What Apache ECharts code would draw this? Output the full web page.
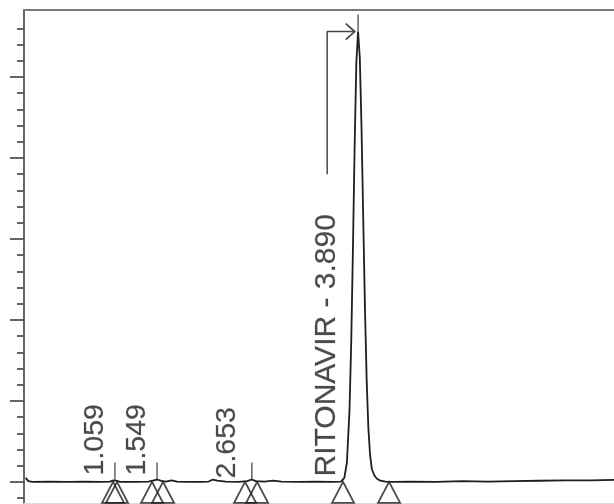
<!DOCTYPE html>
<html>
<head>
<meta charset="utf-8">
<script src="https://cdn.jsdelivr.net/npm/echarts@6/dist/echarts.min.js"></script>
<style>
  html, body { margin: 0; padding: 0; background: #fff; }
  #chart { width: 614px; height: 504px; }
</style>
</head>
<body>
<div id="chart"></div>
<script>
// Chromatogram trace: retention time (min) and detector response
const traceTimes = [
  0.02, 0.05, 0.10, 0.30, 0.50, 0.70, 0.90, 1.00, 1.04, 1.06, 1.08, 1.12,
  1.30, 1.45, 1.50, 1.55, 1.60, 1.65, 1.72, 1.78, 1.90, 2.05, 2.15, 2.20,
  2.25, 2.35, 2.50, 2.60, 2.65, 2.70, 2.80, 2.90, 3.00, 3.20, 3.40, 3.60,
  3.69, 3.73, 3.76, 3.79, 3.81, 3.83, 3.85, 3.87, 3.89, 3.91, 3.93, 3.95,
  3.97, 3.99, 4.01, 4.03, 4.05, 4.08, 4.11, 4.15, 4.21, 4.30, 4.50, 4.80,
  5.10, 5.40, 5.70, 6.00, 6.30, 6.60, 6.87
];
const traceValues = [
  0.50, 0.10, 0.00, 0.05, 0.00, 0.05, 0.00, 0.05, 0.20, 0.30, 0.15, 0.00,
  0.00, 0.05, 0.15, 0.30, 0.12, 0.05, 0.20, 0.05, 0.00, 0.00, 0.05, 0.30,
  0.15, 0.05, 0.00, 0.10, 0.30, 0.10, 0.05, 0.15, 0.05, 0.00, 0.05, 0.00,
  0.03, 0.49, 2.40, 8.80, 17.1, 28.7, 41.5, 51.8, 55.6, 52.4, 43.8, 32.6,
  21.5, 12.6, 6.60, 3.30, 1.60, 0.80, 0.40, 0.15, 0.05, 0.00, 0.05, 0.00,
  0.10, 0.05, 0.10, 0.15, 0.20, 0.20, 0.25
];

// Detected peaks
const peakTimes   = [1.059, 1.549, 2.653, 3.890];
const peakHeights = [0.30, 0.30, 0.30, 55.6];
const peakNames   = ['', '', '', 'RITONAVIR'];

// Integration start/end marks on the baseline
const integrationMarks = [1.037, 1.083, 1.491, 1.619, 2.574, 2.714, 3.715, 4.251];

// Y axis tick positions (no labels)
const majorTickValues = [0, 10, 20, 30, 40, 50];
const minorTickValues = [-2, 2, 4, 6, 8, 12, 14, 16, 18, 22, 24, 26, 28,
  32, 34, 36, 38, 42, 44, 46, 48, 52, 54, 56];

const X_MIN = 0, X_MAX = 6.87;
const Y_MIN = -2.6, Y_MAX = 58.27;
const INK = '#1e1e1e';
const FONT = '"Liberation Sans", Arial, sans-serif';

// label anchor shift (px) from each peak's baseline point, and font size
const labelPlacement = [
  { pos: [-19, -6], size: 28.5 },
  { pos: [-19, -6], size: 28.5 },
  { pos: [-24, -3], size: 28.5 },
  { pos: [-31, -5], size: 30 }
];

const trace = traceTimes.map((t, i) => [t, traceValues[i]]);

const labelData = peakTimes.map((t, i) => {
  const text = peakNames[i] ? peakNames[i] + ' - ' + t.toFixed(3) : t.toFixed(3);
  return {
    value: [t, 0],
    label: {
      show: true,
      formatter: text,
      position: labelPlacement[i].pos,
      rotate: 90,
      align: 'left',
      verticalAlign: 'middle',
      fontSize: labelPlacement[i].size,
      fontFamily: FONT,
      color: INK,
      textBorderColor: 'rgba(30,30,30,0.35)',
      textBorderWidth: 0.6
    }
  };
});

// Annotation arrow pointing at the main peak apex
const mainIdx = peakHeights.indexOf(Math.max(...peakHeights));
const mainT = peakTimes[mainIdx];
const mainH = peakHeights[mainIdx];
const arrowPath = [
  [mainT - 0.36, 38],
  [mainT - 0.36, mainH],
  [mainT - 0.045, mainH]
];

const chart = echarts.init(document.getElementById('chart'), null, { renderer: 'canvas' });

const hiddenAxisParts = {
  axisTick: { show: false },
  axisLabel: { show: false },
  splitLine: { show: false }
};

chart.setOption({
  animation: false,
  backgroundColor: '#fff',
  grid: { left: 24, right: 0, top: 10, bottom: 1 },
  xAxis: [
    Object.assign({
      type: 'value', min: X_MIN, max: X_MAX, position: 'bottom',
      axisLine: { show: true, onZero: false, lineStyle: { color: '#dcdcdc', width: 1 } }
    }, hiddenAxisParts),
    Object.assign({
      type: 'value', min: X_MIN, max: X_MAX, position: 'top',
      axisLine: { show: true, onZero: false, lineStyle: { color: '#7a7a7a', width: 2 } }
    }, hiddenAxisParts)
  ],
  yAxis: [
    {
      type: 'value', min: Y_MIN, max: Y_MAX, position: 'left',
      axisLine: { show: true, onZero: false, lineStyle: { color: '#555', width: 1.8 } },
      axisTick: { show: true, customValues: majorTickValues, length: 14, lineStyle: { color: '#555', width: 1.8 } },
      axisLabel: { show: false },
      splitLine: { show: false }
    },
    {
      type: 'value', min: Y_MIN, max: Y_MAX, position: 'left',
      axisLine: { show: false },
      axisTick: { show: true, customValues: minorTickValues, length: 7, lineStyle: { color: '#555', width: 1.8 } },
      axisLabel: { show: false },
      splitLine: { show: false }
    }
  ],
  series: [
    {
      name: 'trace',
      type: 'line',
      data: trace,
      showSymbol: false,
      symbol: 'none',
      silent: true,
      lineStyle: { color: INK, width: 1.8 },
      z: 3
    },
    {
      name: 'peak marks',
      type: 'scatter',
      data: peakTimes.map((t, i) => [t, peakHeights[i]]),
      symbol: 'rect',
      symbolSize: [1.3, 17],
      symbolOffset: [0, -8.5],
      itemStyle: { color: INK },
      silent: true,
      z: 4
    },
    {
      name: 'integration',
      type: 'scatter',
      data: integrationMarks.map(t => [t, 0]),
      symbol: 'triangle',
      symbolSize: [22, 21],
      symbolOffset: [0, 10.5],
      itemStyle: { color: 'rgba(0,0,0,0)', borderColor: INK, borderWidth: 1.8 },
      silent: true,
      z: 4
    },
    {
      name: 'labels',
      type: 'scatter',
      data: labelData,
      symbolSize: 1,
      itemStyle: { color: 'rgba(0,0,0,0)' },
      silent: true,
      z: 5
    },
    {
      name: 'arrow',
      type: 'line',
      data: arrowPath.map((p, i) => ({
        value: p,
        symbol: i === arrowPath.length - 1 ? 'path://M0,0 L9,8 L0,16' : 'none',
        symbolSize: [9, 16],
        symbolOffset: [-4, 0],
        itemStyle: { color: 'rgba(0,0,0,0)', borderColor: '#444', borderWidth: 1.6 }
      })),
      showSymbol: true,
      silent: true,
      lineStyle: { color: '#444', width: 1.5 },
      z: 5
    }
  ]
});
</script>
</body>
</html>
